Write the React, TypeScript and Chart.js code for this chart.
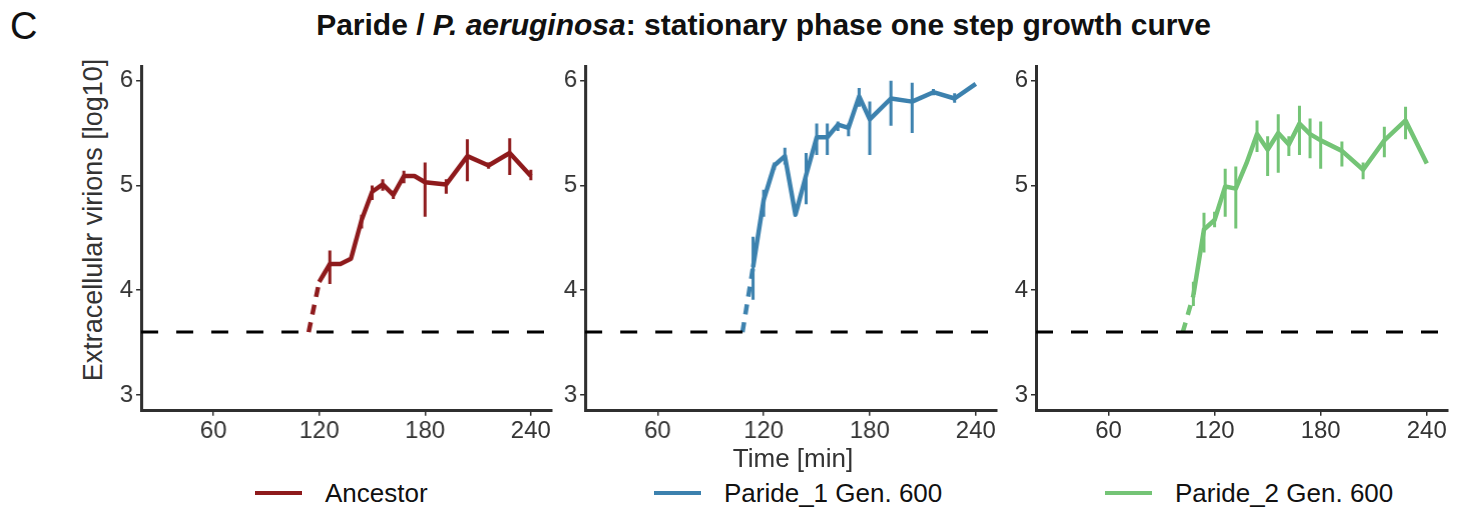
import React, { useEffect, useRef } from "react";
import { Chart, registerables } from "chart.js";

Chart.register(...registerables);

// ---- data ----
const detectionLimit = 3.6;
const xTicks = [60, 120, 180, 240];
const yTicks = [3, 4, 5, 6];

const ancestorTimes = [120, 126, 132, 138, 144, 150, 156, 162, 168, 174, 180, 192, 204, 216, 228, 240];
const ancestorValues = [4.08, 4.25, 4.25, 4.3, 4.67, 4.94, 5.01, 4.91, 5.09, 5.09, 5.03, 5.01, 5.28, 5.19, 5.31, 5.09];
const ancestorLow = [null, 4.06, null, null, 4.59, 4.86, 4.95, 4.87, 5.02, null, 4.7, 4.92, 5.04, 5.16, 5.1, 5.05];
const ancestorHigh = [null, 4.38, null, null, 4.72, 5.0, 5.06, 4.95, 5.14, null, 5.22, 5.06, 5.44, 5.22, 5.45, 5.15];
const ancestorRiseTimes = [114, 120];
const ancestorRiseValues = [3.6, 4.08];

const p1Times = [114, 120, 126, 132, 138, 144, 150, 156, 162, 168, 174, 180, 192, 204, 216, 228, 240];
const p1Values = [4.22, 4.86, 5.19, 5.28, 4.72, 5.1, 5.46, 5.46, 5.58, 5.55, 5.85, 5.63, 5.83, 5.8, 5.89, 5.83, 5.97];
const p1Low = [3.91, 4.7, 5.15, 5.2, null, 4.82, 5.29, 5.29, 5.52, 5.47, 5.75, 5.29, 5.57, 5.5, 5.86, 5.79, null];
const p1High = [4.51, 4.96, 5.22, 5.36, null, 5.31, 5.59, 5.59, 5.61, 5.59, 5.93, 5.8, 6.0, 5.98, 5.92, 5.88, null];
const p1RiseTimes = [108, 114];
const p1RiseValues = [3.6, 4.22];

const p2Times = [108, 114, 120, 126, 132, 138, 144, 150, 156, 162, 168, 174, 180, 192, 204, 216, 228, 240];
const p2Values = [3.95, 4.58, 4.67, 4.99, 4.97, 5.21, 5.49, 5.34, 5.5, 5.39, 5.59, 5.49, 5.43, 5.33, 5.15, 5.43, 5.62, 5.21];
const p2Low = [3.85, 4.36, 4.6, 4.7, 4.59, null, 5.32, 5.09, 5.12, 5.28, 5.29, 5.26, 5.16, 5.18, 5.06, 5.27, 5.44, null];
const p2High = [4.08, 4.74, 4.75, 5.16, 5.18, null, 5.62, 5.47, 5.68, 5.47, 5.76, 5.64, 5.61, 5.42, 5.22, 5.56, 5.75, null];
const p2RiseTimes = [102, 108];
const p2RiseValues = [3.6, 3.95];

const seriesNames = ["Ancestor", "Paride_1 Gen. 600", "Paride_2 Gen. 600"];
const seriesColors = ["#8E1A1C", "#3C81AE", "#74C476"];

const X_MIN = 19;
const X_MAX = 252;
const Y_MIN = 2.85;
const Y_MAX = 6.14;

const FONT = '"Liberation Sans", Arial, Helvetica, sans-serif';

// ---- layout ----
const PLOT_TOP = 66;
const PLOT_BOTTOM = 410.7;
const panels = [
  { left: 141, right: 551.7 },
  { left: 585, right: 996.7 },
  { left: 1036, right: 1448.3 },
];
const CANVAS_TOP = 40;
const CANVAS_H = 420;
const Y_AXIS_W = 60;
const PAD_R = 15;

const errorBarPlugin = {
  id: "errorBars",
  afterDatasetsDraw(chart: any) {
    const ctx = chart.ctx;
    const xs = chart.scales.x;
    const ys = chart.scales.y;
    const area = chart.chartArea;
    ctx.save();
    ctx.beginPath();
    ctx.rect(area.left, area.top, area.right - area.left, area.bottom - area.top);
    ctx.clip();
    chart.data.datasets.forEach((ds: any) => {
      if (!ds.errLow) return;
      ctx.strokeStyle = ds.borderColor;
      ctx.lineWidth = 3;
      ctx.lineCap = "butt";
      ds.data.forEach((pt: any, i: number) => {
        const lo = ds.errLow[i];
        const hi = ds.errHigh[i];
        if (lo == null || hi == null) return;
        const px = xs.getPixelForValue(pt.x);
        ctx.beginPath();
        ctx.moveTo(px, ys.getPixelForValue(lo));
        ctx.lineTo(px, ys.getPixelForValue(hi));
        ctx.stroke();
      });
    });
    ctx.restore();
  },
};

function zip(xs: number[], ys: number[]) {
  return xs.map((x, i) => ({ x, y: ys[i] }));
}

function Panel(props: {
  idx: number;
  times: number[];
  values: number[];
  low: (number | null)[];
  high: (number | null)[];
  riseTimes: number[];
  riseValues: number[];
}) {
  const ref = useRef<HTMLCanvasElement>(null);
  const p = panels[props.idx];
  const color = seriesColors[props.idx];
  const width = p.right - p.left + Y_AXIS_W + PAD_R;
  useEffect(() => {
    if (!ref.current) return;
    const axisColor = "#2f2f2f";
    const tickFont = { family: FONT, size: 24 };
    const chart = new Chart(ref.current, {
      type: "line",
      data: {
        datasets: [
          {
            data: [
              { x: X_MIN, y: detectionLimit },
              { x: X_MAX, y: detectionLimit },
            ],
            borderColor: "#000000",
            borderWidth: 3,
            borderDash: [17, 18],
            pointRadius: 0,
          },
          {
            data: zip(props.riseTimes, props.riseValues),
            borderColor: color,
            borderWidth: 4.5,
            borderDash: [10, 8],
            pointRadius: 0,
          },
          {
            data: zip(props.times, props.values),
            errLow: props.low,
            errHigh: props.high,
            borderColor: color,
            borderWidth: 4.5,
            borderJoinStyle: "round",
            pointRadius: 0,
          } as any,
        ],
      },
      options: {
        animation: false,
        responsive: false,
        maintainAspectRatio: false,
        layout: { padding: { left: 0, right: PAD_R, top: PLOT_TOP - CANVAS_TOP, bottom: 0 } },
        plugins: { legend: { display: false }, tooltip: { enabled: false } },
        scales: {
          x: {
            type: "linear",
            min: X_MIN,
            max: X_MAX,
            afterBuildTicks: (s: any) => {
              s.ticks = xTicks.map((v) => ({ value: v }));
            },
            afterFit: (s: any) => {
              s.height = CANVAS_H - (PLOT_BOTTOM - CANVAS_TOP);
            },
            ticks: { font: tickFont, color: "#333333", padding: 1, maxRotation: 0 },
            grid: { drawOnChartArea: false, drawTicks: true, tickLength: 5, color: axisColor, lineWidth: 1.5 },
            border: { display: true, color: axisColor, width: 3 },
          },
          y: {
            type: "linear",
            min: Y_MIN,
            max: Y_MAX,
            afterBuildTicks: (s: any) => {
              s.ticks = yTicks.map((v) => ({ value: v }));
            },
            afterFit: (s: any) => {
              s.width = Y_AXIS_W;
            },
            ticks: { font: tickFont, color: "#333333", padding: 3 },
            grid: { drawOnChartArea: false, drawTicks: true, tickLength: 5, color: axisColor, lineWidth: 1.5 },
            border: { display: true, color: axisColor, width: 3 },
          },
        },
      },
      plugins: [errorBarPlugin],
    } as any);
    return () => chart.destroy();
  }, []);
  return (
    <canvas
      ref={ref}
      width={width}
      height={CANVAS_H}
      style={{ position: "absolute", left: p.left - Y_AXIS_W, top: CANVAS_TOP, width, height: CANVAS_H }}
    />
  );
}

const legendPos = [
  { lineX: 255, textX: 325 },
  { lineX: 654, textX: 724 },
  { lineX: 1105, textX: 1175 },
];

export default function App() {
  useEffect(() => {
    document.body.style.margin = "0";
  }, []);
  return (
    <div
      style={{
        position: "absolute",
        left: 0,
        top: 0,
        width: 1465,
        height: 510,
        background: "#ffffff",
        fontFamily: FONT,
        overflow: "hidden",
      }}
    >
      <div style={{ position: "absolute", left: 10, top: 4, fontSize: 38, color: "#111", lineHeight: "44px" }}>C</div>
      <div
        style={{
          position: "absolute",
          left: 0,
          width: 1527,
          top: 8,
          textAlign: "center",
          fontSize: 30,
          fontWeight: "bold",
          color: "#111",
          lineHeight: "34px",
          whiteSpace: "nowrap",
        }}
      >
        Paride / <i>P. aeruginosa</i>: stationary phase one step growth curve
      </div>
      <div
        style={{
          position: "absolute",
          left: 93,
          top: 220,
          transform: "translate(-50%, -50%) rotate(-90deg)",
          fontSize: 27,
          color: "#333",
          whiteSpace: "nowrap",
          lineHeight: "30px",
        }}
      >
        Extracellular virions [log10]
      </div>
      <Panel idx={0} times={ancestorTimes} values={ancestorValues} low={ancestorLow} high={ancestorHigh} riseTimes={ancestorRiseTimes} riseValues={ancestorRiseValues} />
      <Panel idx={1} times={p1Times} values={p1Values} low={p1Low} high={p1High} riseTimes={p1RiseTimes} riseValues={p1RiseValues} />
      <Panel idx={2} times={p2Times} values={p2Values} low={p2Low} high={p2High} riseTimes={p2RiseTimes} riseValues={p2RiseValues} />
      <div
        style={{
          position: "absolute",
          left: 793,
          top: 458,
          transform: "translate(-50%, -50%)",
          fontSize: 26,
          color: "#333",
          whiteSpace: "nowrap",
          lineHeight: "30px",
        }}
      >
        Time [min]
      </div>
      {seriesNames.map((name, i) => (
        <React.Fragment key={name}>
          <div
            style={{
              position: "absolute",
              left: legendPos[i].lineX,
              top: 491,
              width: 47,
              height: 4,
              background: seriesColors[i],
            }}
          />
          <div
            style={{
              position: "absolute",
              left: legendPos[i].textX,
              top: 478,
              fontSize: 26,
              color: "#111",
              whiteSpace: "nowrap",
              lineHeight: "30px",
            }}
          >
            {name}
          </div>
        </React.Fragment>
      ))}
    </div>
  );
}
